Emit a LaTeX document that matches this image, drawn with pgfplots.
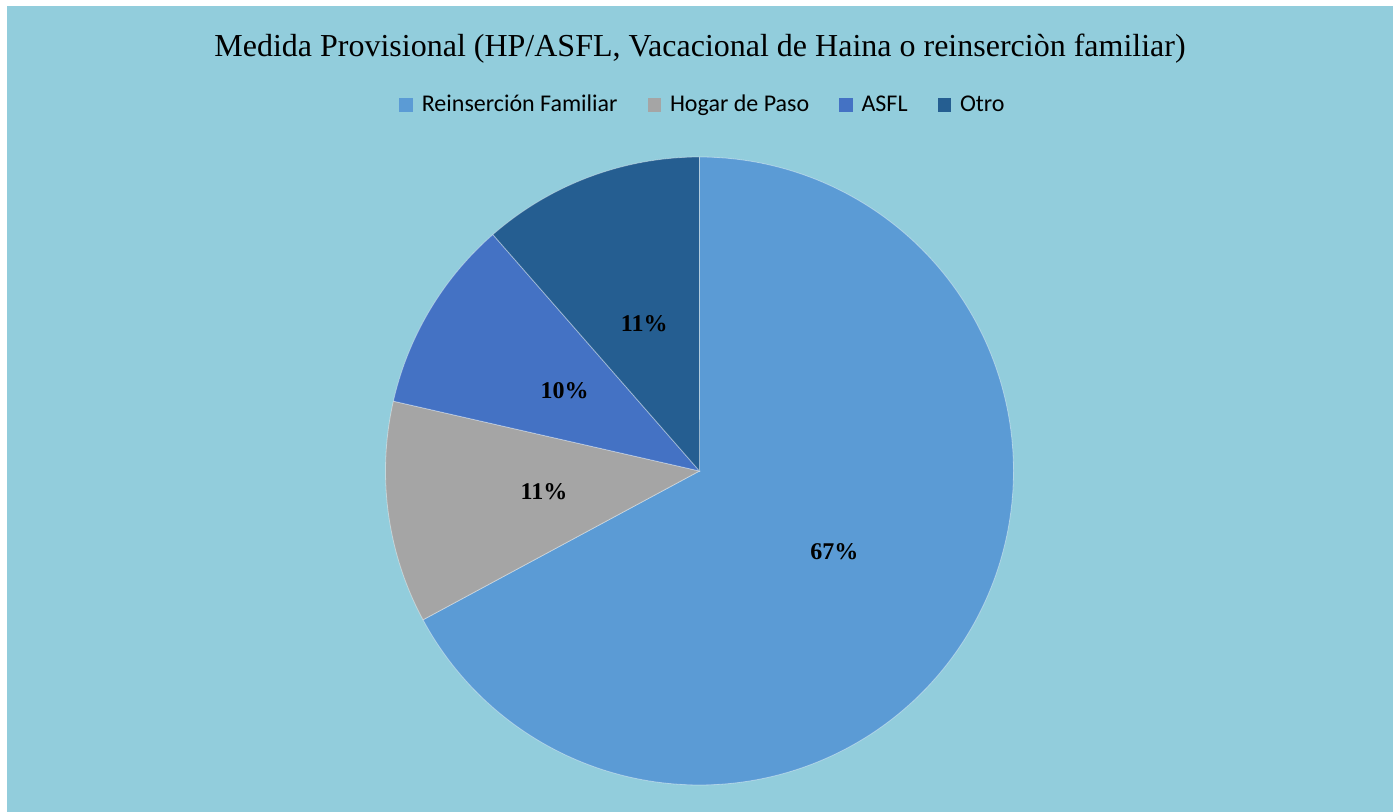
\documentclass[border=0pt]{standalone}
\usepackage{pgfplots}
\pgfplotsset{compat=1.18}
\usepackage{pgfplotstable}
\usepackage{fontspec}
\setmainfont{Liberation Serif}
\newfontfamily\carlito{Carlito}
\definecolor{bgc}{HTML}{92CDDC}
\definecolor{cA}{HTML}{5B9BD5}
\definecolor{cB}{HTML}{A5A5A5}
\definecolor{cC}{HTML}{4472C4}
\definecolor{cD}{HTML}{255E91}

\pgfplotstableread{
name value pct
Reinsercion 47 67
Hogar 8 11
ASFL 7 10
Otro 8 11
}\piedata

\begin{document}
\begin{tikzpicture}
\pgfplotstablegetelem{0}{value}\of\piedata \let\vA\pgfplotsretval
\pgfplotstablegetelem{1}{value}\of\piedata \let\vB\pgfplotsretval
\pgfplotstablegetelem{2}{value}\of\piedata \let\vC\pgfplotsretval
\pgfplotstablegetelem{3}{value}\of\piedata \let\vD\pgfplotsretval
\pgfplotstablegetelem{0}{pct}\of\piedata \let\pA\pgfplotsretval
\pgfplotstablegetelem{1}{pct}\of\piedata \let\pB\pgfplotsretval
\pgfplotstablegetelem{2}{pct}\of\piedata \let\pC\pgfplotsretval
\pgfplotstablegetelem{3}{pct}\of\piedata \let\pD\pgfplotsretval
\pgfmathsetmacro\tot{\vA+\vB+\vC+\vD}
\pgfmathsetmacro\sA{90}
\pgfmathsetmacro\eA{\sA-360*(\vA/\tot)}
\pgfmathsetmacro\eB{\eA-360*(\vB/\tot)}
\pgfmathsetmacro\eC{\eB-360*(\vC/\tot)}
\pgfmathsetmacro\eD{\eC-360*(\vD/\tot)}
\def\cx{699.5}\def\cy{341}\def\R{314}
\pgfmathsetmacro\lAx{\cx+0.5*\R*cos((\sA+\eA)/2)}\pgfmathsetmacro\lAy{\cy+0.5*\R*sin((\sA+\eA)/2)}
\pgfmathsetmacro\lBx{\cx+0.5*\R*cos((\eA+\eB)/2)}\pgfmathsetmacro\lBy{\cy+0.5*\R*sin((\eA+\eB)/2)}
\pgfmathsetmacro\lCx{\cx+0.5*\R*cos((\eB+\eC)/2)}\pgfmathsetmacro\lCy{\cy+0.5*\R*sin((\eB+\eC)/2)}
\pgfmathsetmacro\lDx{\cx+0.5*\R*cos((\eC+\eD)/2)}\pgfmathsetmacro\lDy{\cy+0.5*\R*sin((\eC+\eD)/2)}
\begin{axis}[
  scale only axis, width=700pt, height=406pt,
  xmin=0, xmax=1400, ymin=0, ymax=812,
  hide axis, clip=false,
  legend style={at={(axis cs:704,707)}, anchor=center, draw=none, fill=none,
    font=\carlito\fontsize{12}{14}\selectfont, inner sep=0pt,
    /tikz/every even column/.append style={column sep=13pt}},
  legend columns=-1,
  legend image code/.code={\fill[#1, draw=none] (0pt,-3.4pt) rectangle (6.8pt,3.4pt); \path (9pt,0pt);},
]
\fill[white] (axis cs:0,0) rectangle (axis cs:1400,812);
\fill[bgc] (axis cs:7,0) rectangle (axis cs:1393,806);
\addplot[fill=cA, draw=white, draw opacity=0.4, line width=0.4pt, domain=\eA:\sA, samples=200] ({\cx+\R*cos(x)},{\cy+\R*sin(x)}) -- (axis cs:\cx,\cy) -- cycle;
\addlegendentry{Reinserción Familiar}
\addplot[fill=cB, draw=white, draw opacity=0.4, line width=0.4pt, domain=\eB:\eA, samples=60] ({\cx+\R*cos(x)},{\cy+\R*sin(x)}) -- (axis cs:\cx,\cy) -- cycle;
\addlegendentry{Hogar de Paso}
\addplot[fill=cC, draw=white, draw opacity=0.4, line width=0.4pt, domain=\eC:\eB, samples=60] ({\cx+\R*cos(x)},{\cy+\R*sin(x)}) -- (axis cs:\cx,\cy) -- cycle;
\addlegendentry{ASFL}
\addplot[fill=cD, draw=white, draw opacity=0.4, line width=0.4pt, domain=\eD:\eC, samples=60] ({\cx+\R*cos(x)},{\cy+\R*sin(x)}) -- (axis cs:\cx,\cy) -- cycle;
\addlegendentry{Otro}
\node[font=\bfseries\fontsize{12}{14}\selectfont] at (axis cs:\lAx,\lAy) {\pA\%};
\node[font=\bfseries\fontsize{12}{14}\selectfont] at (axis cs:\lBx,\lBy) {\pB\%};
\node[font=\bfseries\fontsize{12}{14}\selectfont] at (axis cs:\lCx,\lCy) {\pC\%};
\node[font=\bfseries\fontsize{12}{14}\selectfont] at (axis cs:\lDx,\lDy) {\pD\%};
\node[anchor=base, font=\fontsize{16}{19}\selectfont] at (axis cs:700,755) {Medida Provisional (HP/ASFL, Vacacional de Haina o reinserciòn familiar)};
\end{axis}
\end{tikzpicture}
\end{document}
